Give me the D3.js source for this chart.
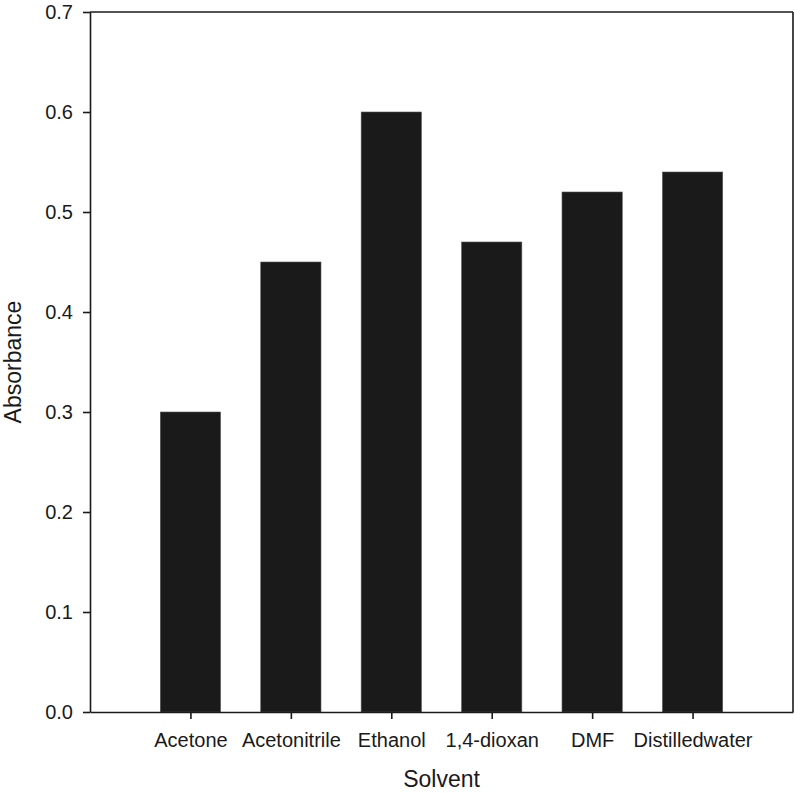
<!DOCTYPE html>
<html>
<head>
<meta charset="utf-8">
<style>
body { margin: 0; background: #fff; }
svg text { font-family: 'Liberation Sans', Arial, sans-serif; fill: #1a1a1a; }
.axis path, .axis line { stroke: #1a1a1a; stroke-width: 1.6; }
</style>
<script src="https://d3js.org/d3.v7.min.js"></script>
</head>
<body>
<svg id="chart" width="795" height="794"></svg>
<script>
var solvents = ["Acetone", "Acetonitrile", "Ethanol", "1,4-dioxan", "DMF", "Distilledwater"];
var absorbance = [0.30, 0.45, 0.60, 0.47, 0.52, 0.54];
var yTicks = [0.0, 0.1, 0.2, 0.3, 0.4, 0.5, 0.6, 0.7];

var margin = { top: 12, right: 2, bottom: 82, left: 90 };
var width = 795 - margin.left - margin.right;
var height = 794 - margin.top - margin.bottom;

var svg = d3.select("#chart");
var chart = svg.append("g")
               .attr("transform", "translate(" + margin.left + "," + margin.top + ")");

// categories sit at 1..n on a 0..n+1 scale
var x = d3.scaleLinear().domain([0, solvents.length + 1]).range([0, width]);
var y = d3.scaleLinear().domain([0, 0.7]).range([height, 0]);
var barW = (x(1) - x(0)) * 0.6;

chart.selectAll(".bar")
     .data(absorbance)
     .enter()
     .append("rect")
     .attr("class", "bar")
     .attr("x", function(d, i) { return x(i + 1) - barW / 2; })
     .attr("y", function(d) { return y(d); })
     .attr("width", barW)
     .attr("height", function(d) { return height - y(d); })
     .attr("fill", "#1a1a1a")
     .attr("stroke", "#555")
     .attr("stroke-width", 0.6);

// frame
chart.append("line").attr("x1", 0).attr("x2", width).attr("y1", 0).attr("y2", 0)
     .attr("stroke", "#1a1a1a").attr("stroke-width", 1.6);
chart.append("line").attr("x1", width).attr("x2", width).attr("y1", 0).attr("y2", height)
     .attr("stroke", "#1a1a1a").attr("stroke-width", 1.6);

var xAxis = d3.axisBottom(x)
              .tickValues(d3.range(1, solvents.length + 1))
              .tickFormat(function(d) { return solvents[d - 1]; })
              .tickSize(7)
              .tickSizeOuter(0)
              .tickPadding(14);
var gx = chart.append("g")
     .attr("class", "axis")
     .attr("transform", "translate(0," + height + ")")
     .call(xAxis);
gx.selectAll("text").style("font-size", "20px");

var yAxis = d3.axisLeft(y)
              .tickValues(yTicks)
              .tickFormat(d3.format(".1f"))
              .tickSize(7)
              .tickSizeOuter(0)
              .tickPadding(10);
var gy = chart.append("g")
     .attr("class", "axis")
     .call(yAxis);
gy.selectAll("text").style("font-size", "20px");

chart.append("text")
     .attr("x", x(3.5))
     .attr("y", height + 75)
     .attr("text-anchor", "middle")
     .style("font-size", "23px")
     .text("Solvent");

chart.append("text")
     .attr("transform", "translate(" + (-margin.left + 21) + "," + (height / 2) + ") rotate(-90)")
     .attr("text-anchor", "middle")
     .style("font-size", "23px")
     .text("Absorbance");
</script>
</body>
</html>
